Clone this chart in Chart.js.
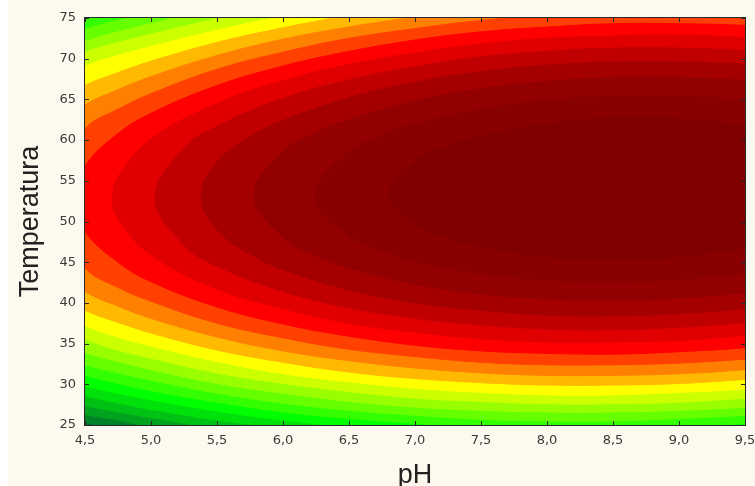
<!DOCTYPE html>
<html><head><meta charset="utf-8">
<script src="https://cdn.jsdelivr.net/npm/chart.js@4.4.1/dist/chart.umd.min.js"></script>
<style>
html,body{margin:0;padding:0;background:#ffffff;}
#wrap{position:absolute;left:0;top:0;width:755px;height:486px;overflow:hidden;}
#bg{position:absolute;left:8px;top:0;width:747px;height:486px;background:#fdf9ef;}
canvas{position:absolute;left:0;top:0;}
</style></head><body>
<div id="wrap"><div id="bg"></div><canvas id="c" width="755" height="486"></canvas></div>
<script>
// ---- axis ticks ----
const X_TICKS = [4.5,5.0,5.5,6.0,6.5,7.0,7.5,8.0,8.5,9.0,9.5];
const X_TICK_LABELS = ['4,5','5,0','5,5','6,0','6,5','7,0','7,5','8,0','8,5','9,0','9,5'];
const Y_TICKS = [25,30,35,40,45,50,55,60,65,70,75];
const Y_TICK_LABELS = ['25','30','35','40','45','50','55','60','65','70','75'];

// ---- contour band colours (band 1 = lowest, 21 = highest) ----
const BAND_COLORS = ['#006432','#008328','#00a21e','#00c114','#00e00a','#00ff00','#33ff00',
  '#66ff00','#99ff00','#ccff00','#ffff00','#ffb900','#ff8000','#ff4000','#ff0000',
  '#e00000','#c00000','#a40000','#920000','#890000','#800000'];

// ---- contour boundaries (pH, Temperatura) ----
// each boundary encloses the region of its band and all higher bands
const CONTOUR_BAND = [2,3,4,5,6,7,8,9,10,11,12,13,14,15,16,17,18,19,20,21];
const CONTOUR_PH = [
 [4.0,4.5,4.75,5.0,5.5,6.0,6.5,7.0,7.5,8.0,8.5,9.0,9.5,10.0],
 [4.0,4.5,4.75,5.0,5.5,6.0,6.5,7.0,7.5,8.0,8.5,9.0,9.5,10.0],
 [4.0,4.5,4.75,5.0,5.5,6.0,6.5,7.0,7.5,8.0,8.5,9.0,9.5,10.0],
 [4.0,4.5,4.75,5.0,5.5,6.0,6.5,7.0,7.5,8.0,8.5,9.0,9.5,10.0],
 [4.0,4.5,4.75,5.0,5.5,6.0,6.5,7.0,7.5,8.0,8.5,9.0,9.5,10.0],
 [4.0,4.5,4.75,5.0,5.5,6.0,6.5,7.0,7.5,8.0,8.5,9.0,9.5,10.0],
 [4.0,4.5,4.75,5.0,5.5,6.0,6.5,7.0,7.5,8.0,8.5,9.0,9.5,10.0],
 [4.0,4.5,4.75,5.0,5.5,6.0,6.5,7.0,7.5,8.0,8.5,9.0,9.5,10.0],
 [4.0,4.5,4.75,5.0,5.5,6.0,6.5,7.0,7.5,8.0,8.5,9.0,9.5,10.0],
 [4.0,4.5,4.75,5.0,5.5,6.0,6.5,7.0,7.5,8.0,8.5,9.0,9.5,10.0],
 [4.0,4.5,4.75,5.0,5.5,6.0,6.5,7.0,7.5,8.0,8.5,9.0,9.5,10.0],
 [4.0,4.5,4.75,5.0,5.5,6.0,6.5,7.0,7.5,8.0,8.5,9.0,9.5,10.0],
 [4.5,4.75,5.0,5.5,6.0,6.5,7.0,7.5,8.0,8.5,9.0,9.5,10.0],
 [4.5,4.75,5.0,5.5,6.0,6.5,7.0,7.5,8.0,8.5,9.0,9.5,10.0],
 [4.75,5.0,5.5,6.0,6.5,7.0,7.5,8.0,8.5,9.0,9.5,10.0],
 [5.25,5.5,6.0,6.5,7.0,7.5,8.0,8.5,9.0,9.5,10.0],
 [5.5,5.75,6.0,6.5,7.0,7.5,8.0,8.5,9.0,9.5,10.0],
 [6.0,6.25,6.5,7.0,7.5,8.0,8.5,9.0,9.5,10.0],
 [6.5,6.75,7.0,7.5,8.0,8.5,9.0,9.5,10.0],
 [7.0,7.25,7.5,8.0,8.5,9.0,9.5,10.0]
];
const CONTOUR_TOP = [
 [78.2,80.3,81.2,82.1,83.5,84.8,85.8,86.6,87.2,87.7,87.9,88.0,88.0,87.7],
 [77.1,79.3,80.2,81.1,82.6,83.9,84.9,85.7,86.4,86.8,87.1,87.2,87.1,86.8],
 [75.9,78.2,79.1,80.0,81.6,82.9,84.0,84.8,85.5,85.9,86.2,86.3,86.2,85.9],
 [74.6,77.0,78.0,79.0,80.6,81.9,83.0,83.9,84.6,85.0,85.3,85.4,85.3,85.0],
 [73.3,75.8,76.9,77.8,79.5,80.9,82.0,82.9,83.6,84.1,84.4,84.5,84.4,84.1],
 [72.3,74.9,76.0,76.9,78.5,79.9,81.0,82.0,82.7,83.2,83.4,83.5,83.4,83.1],
 [70.7,73.6,74.7,75.6,77.4,78.8,80.0,80.9,81.7,82.2,82.5,82.5,82.4,82.1],
 [69.0,72.1,73.3,74.3,76.2,77.6,78.9,79.9,80.6,81.1,81.4,81.5,81.4,81.0],
 [67.4,70.8,72.0,73.0,74.9,76.4,77.7,78.8,79.5,80.1,80.4,80.5,80.3,79.9],
 [65.3,69.1,70.4,71.5,73.5,75.2,76.5,77.6,78.4,79.0,79.3,79.4,79.2,78.8],
 [62.2,66.7,68.3,69.7,72.0,73.8,75.3,76.4,77.2,77.8,78.1,78.2,78.0,77.6],
 [58.0,64.3,66.2,67.8,70.4,72.4,73.9,75.1,76.0,76.6,76.9,77.0,76.8,76.3],
 [61.4,63.8,65.7,68.7,70.8,72.5,73.7,74.7,75.3,75.6,75.7,75.5,75.0],
 [56.8,60.8,63.3,66.7,69.1,70.9,72.3,73.3,73.9,74.3,74.3,74.1,73.6],
 [55.5,60.1,64.5,67.3,69.3,70.7,71.8,72.5,72.8,72.9,72.6,72.0],
 [59.0,61.7,65.1,67.4,69.0,70.2,70.9,71.3,71.3,71.0,70.4],
 [57.3,60.4,62.4,65.2,67.1,68.4,69.2,69.6,69.6,69.3,68.5],
 [58.6,60.9,62.5,64.8,66.3,67.2,67.7,67.7,67.3,66.3],
 [58.6,60.6,62.0,63.8,64.9,65.4,65.4,64.9,63.7],
 [57.4,59.3,60.5,62.0,62.7,62.6,61.8,59.8]
];
const CONTOUR_BOTTOM = [
 [27.1,25.3,24.5,23.8,22.7,21.7,21.0,20.5,20.2,20.0,20.1,20.3,20.6,21.2],
 [28.2,26.3,25.6,24.8,23.6,22.7,21.9,21.4,21.0,20.9,20.9,21.1,21.5,22.1],
 [29.4,27.4,26.6,25.9,24.6,23.6,22.8,22.3,21.9,21.8,21.8,22.0,22.4,23.0],
 [30.7,28.6,27.7,26.9,25.6,24.6,23.8,23.2,22.8,22.7,22.7,22.9,23.3,23.9],
 [32.0,29.8,28.9,28.1,26.7,25.6,24.8,24.2,23.8,23.6,23.6,23.8,24.2,24.8],
 [33.4,31.1,30.1,29.2,27.8,26.6,25.8,25.2,24.7,24.6,24.6,24.8,25.2,25.8],
 [35.0,32.4,31.4,30.5,28.9,27.7,26.8,26.2,25.7,25.5,25.5,25.8,26.2,26.8],
 [36.7,33.9,32.8,31.8,30.1,28.9,27.9,27.2,26.8,26.6,26.6,26.8,27.2,27.9],
 [38.6,35.5,34.2,33.2,31.4,30.1,29.1,28.3,27.9,27.6,27.6,27.8,28.3,29.0],
 [40.8,37.2,35.8,34.7,32.8,31.3,30.3,29.5,29.0,28.7,28.7,29.0,29.4,30.1],
 [43.5,39.1,37.6,36.3,34.2,32.7,31.5,30.7,30.2,29.9,29.9,30.1,30.6,31.3],
 [47.4,41.4,39.6,38.1,35.8,34.1,32.9,32.0,31.4,31.1,31.1,31.3,31.8,32.6],
 [44.3,41.9,40.2,37.5,35.7,34.3,33.4,32.7,32.4,32.4,32.6,33.1,33.9],
 [48.8,45.0,42.6,39.5,37.4,35.9,34.8,34.1,33.8,33.7,34.0,34.5,35.4],
 [50.3,45.9,41.7,39.3,37.5,36.4,35.6,35.2,35.2,35.4,36.0,36.9],
 [47.1,44.5,41.4,39.4,38.1,37.3,36.8,36.7,37.0,37.6,38.6],
 [49.0,46.0,44.1,41.6,40.0,39.1,38.5,38.4,38.7,39.3,40.4],
 [48.0,45.8,44.3,42.3,41.1,40.5,40.3,40.6,41.3,42.6],
 [48.2,46.4,45.1,43.6,42.8,42.6,42.9,43.7,45.2],
 [49.7,48.0,46.9,45.7,45.4,45.7,46.8,49.1]
];
// left-most point of each boundary (pH, Temperatura)
const CONTOUR_CAP = [
 [1.60,51.93],[1.77,51.98],[1.95,52.04],[2.14,52.09],[2.33,52.15],[2.53,52.21],
 [2.73,52.27],[2.94,52.33],[3.16,52.40],[3.39,52.47],[3.62,52.54],[3.87,52.61],
 [4.14,52.69],[4.42,52.78],[4.71,52.86],[5.03,52.96],[5.38,53.07],[5.78,53.18],
 [6.24,53.32],[6.81,53.49]
];

// ---- build datasets ----
const datasets = CONTOUR_BAND.map((band, i) => {
  const ph = CONTOUR_PH[i], top = CONTOUR_TOP[i], bot = CONTOUR_BOTTOM[i];
  const pts = [];
  for (let j = ph.length - 1; j >= 0; j--) pts.push({x: ph[j], y: top[j]});
  pts.push({x: CONTOUR_CAP[i][0], y: CONTOUR_CAP[i][1]});
  for (let j = 0; j < ph.length; j++) pts.push({x: ph[j], y: bot[j]});
  const col = BAND_COLORS[band - 1];
  return {
    label: 'nivel ' + band, data: pts, showLine: true, fill: 'shape',
    backgroundColor: col, borderColor: col, borderWidth: 1,
    pointRadius: 0, pointHoverRadius: 0, tension: 0.4,
    capBezierPoints: false, clip: 0, order: 100 - band
  };
});

const framePlugin = {
  id: 'frame',
  beforeDatasetsDraw(chart) {
    const {ctx, chartArea: a} = chart;
    ctx.save();
    ctx.fillStyle = BAND_COLORS[0];
    ctx.fillRect(a.left, a.top, a.right - a.left, a.bottom - a.top);
    ctx.restore();
  },
  afterDatasetsDraw(chart) {
    const {ctx, chartArea: a, scales: {x, y}} = chart;
    ctx.save();
    ctx.strokeStyle = '#2a2a2a';
    ctx.lineWidth = 1;
    ctx.strokeRect(Math.round(a.left) - 0.5, Math.round(a.top) - 0.5,
                   Math.round(a.right - a.left) + 1, Math.round(a.bottom - a.top) + 1);
    ctx.beginPath();
    x.ticks.forEach(t => {
      const px = Math.round(x.getPixelForValue(t.value)) + 0.5;
      ctx.moveTo(px, a.bottom); ctx.lineTo(px, a.bottom - 4);
      ctx.moveTo(px, a.top); ctx.lineTo(px, a.top + 4);
    });
    y.ticks.forEach(t => {
      const py = Math.round(y.getPixelForValue(t.value)) + 0.5;
      ctx.moveTo(a.left, py); ctx.lineTo(a.left + 4, py);
      ctx.moveTo(a.right, py); ctx.lineTo(a.right - 4, py);
    });
    ctx.stroke();
    ctx.restore();
  }
};

new Chart(document.getElementById('c'), {
  type: 'scatter',
  data: {datasets},
  plugins: [framePlugin],
  options: {
    responsive: false, animation: false, devicePixelRatio: 1,
    events: [],
    layout: {padding: {left: 0, top: 18, right: 10, bottom: 0}},
    plugins: {legend: {display: false}, tooltip: {enabled: false}, filler: {propagate: false}},
    scales: {
      x: {
        type: 'linear', min: 4.5, max: 9.5,
        afterBuildTicks: s => { s.ticks = X_TICKS.map(v => ({value: v})); },
        afterFit: s => { s.height = 61; s.paddingLeft = 0; s.paddingRight = 0; },
        ticks: {
          autoSkip: false, maxRotation: 0, padding: 8, color: '#3a3a3a',
          font: {family: 'DejaVu Sans', size: 13},
          callback: v => X_TICK_LABELS[X_TICKS.indexOf(v)]
        },
        grid: {display: false, drawTicks: false},
        border: {display: false},
        title: {display: true, text: 'pH', color: '#222222',
          font: {family: 'Liberation Sans', size: 27, lineHeight: 1},
          padding: {top: 0, bottom: -3}}
      },
      y: {
        type: 'linear', min: 25, max: 75,
        afterBuildTicks: s => { s.ticks = Y_TICKS.map(v => ({value: v})); },
        afterFit: s => { s.width = 85; s.paddingTop = 0; s.paddingBottom = 0; },
        ticks: {
          autoSkip: false, padding: 9, color: '#3a3a3a',
          font: {family: 'DejaVu Sans', size: 13},
          callback: v => Y_TICK_LABELS[Y_TICKS.indexOf(v)]
        },
        grid: {display: false, drawTicks: false},
        border: {display: false},
        title: {display: true, text: 'Temperatura', color: '#222222',
          font: {family: 'Liberation Sans', size: 27, lineHeight: 1},
          padding: {top: 17, bottom: 0}}
      }
    }
  }
});
</script>
</body></html>
